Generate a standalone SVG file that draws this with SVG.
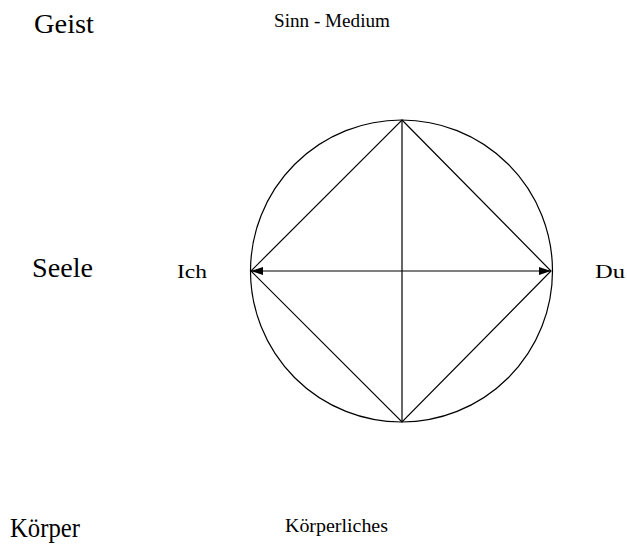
<svg xmlns="http://www.w3.org/2000/svg" width="627" height="544" viewBox="0 0 627 544">
<style>
.ln{stroke:#000;stroke-width:1.2;fill:none}
.t{font-family:'Liberation Serif','Times New Roman',serif;fill:#000}
</style>
<defs>
<marker id="ah" viewBox="0 0 12 8" refX="12" refY="4" markerWidth="12" markerHeight="8" markerUnits="userSpaceOnUse" orient="auto-start-reverse">
<path d="M0,0 L12,4 L0,8 Z" fill="#000"/>
</marker>
</defs>
<rect width="627" height="544" fill="#fff"/>
<g id="levels" font-size="27">
<text class="t" x="34" y="33" textLength="60" lengthAdjust="spacingAndGlyphs">Geist</text>
<text class="t" x="32" y="277" textLength="61" lengthAdjust="spacingAndGlyphs">Seele</text>
<text class="t" x="10" y="537" textLength="70" lengthAdjust="spacingAndGlyphs">Körper</text>
</g>
<g id="sinn" font-size="19"><text class="t" x="274" y="27" textLength="116" lengthAdjust="spacingAndGlyphs">Sinn - Medium</text></g>
<g id="ich" font-size="19"><text class="t" x="177" y="278" textLength="30" lengthAdjust="spacingAndGlyphs">Ich</text></g>
<g id="du" font-size="19"><text class="t" x="595" y="278" textLength="30" lengthAdjust="spacingAndGlyphs">Du</text></g>
<g id="koerperliches" font-size="19"><text class="t" x="285" y="532" textLength="103" lengthAdjust="spacingAndGlyphs">Körperliches</text></g>
<g id="circle-node">
<circle class="ln" cx="401.5" cy="271" r="151"/>
</g>
<g id="connectors">
<line class="ln" x1="402" y1="120" x2="402" y2="422"/>
<polygon class="ln" points="402,120 551,271 402,422 251,271"/>
<line class="ln" x1="251" y1="271" x2="551" y2="271" marker-start="url(#ah)" marker-end="url(#ah)"/>
</g>
</svg>
